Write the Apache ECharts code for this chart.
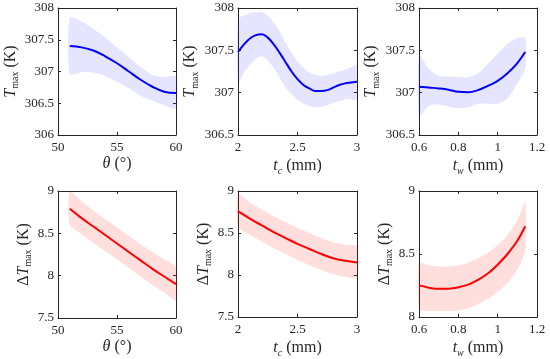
<!DOCTYPE html>
<html><head><meta charset="utf-8">
<script src="https://cdn.jsdelivr.net/npm/echarts@6/dist/echarts.min.js"></script>
<style>html,body{margin:0;padding:0;background:#fff}#c{width:550px;height:359px}</style>
</head><body><div id="c"></div>
<script>
// Panel 1: T_max vs theta
const p1X = [51, 52, 53, 54, 55, 56, 57, 58, 59, 60];
const p1Mean = [307.40, 307.38, 307.33, 307.24, 307.13, 307.00, 306.87, 306.76, 306.68, 306.66];
const p1Up = [307.85, 307.79, 307.67, 307.54, 307.38, 307.23, 307.07, 306.95, 306.91, 306.92];
const p1Lo = [306.96, 306.99, 306.98, 306.93, 306.84, 306.74, 306.62, 306.54, 306.47, 306.42];
// Panel 2: T_max vs t_c
const p2X = [2.00, 2.05, 2.10, 2.15, 2.20, 2.25, 2.30, 2.35, 2.40, 2.45, 2.50, 2.55, 2.60, 2.65, 2.70, 2.75, 2.80, 2.85, 2.90, 2.95, 3.00];
const p2Mean = [307.48, 307.57, 307.64, 307.68, 307.69, 307.65, 307.57, 307.47, 307.36, 307.25, 307.16, 307.09, 307.05, 307.02, 307.02, 307.03, 307.06, 307.09, 307.11, 307.12, 307.13];
const p2Up = [307.87, 307.91, 307.94, 307.95, 307.95, 307.91, 307.83, 307.72, 307.59, 307.47, 307.37, 307.29, 307.24, 307.21, 307.20, 307.21, 307.23, 307.25, 307.27, 307.30, 307.33];
const p2Lo = [307.10, 307.24, 307.33, 307.40, 307.43, 307.38, 307.29, 307.18, 307.06, 306.98, 306.92, 306.87, 306.84, 306.83, 306.83, 306.85, 306.88, 306.90, 306.92, 306.92, 306.92];
// Panel 3: T_max vs t_w
const p3X = [0.60, 0.65, 0.70, 0.75, 0.80, 0.85, 0.90, 0.95, 1.00, 1.05, 1.10, 1.14];
const p3Mean = [307.07, 307.06, 307.05, 307.035, 307.01, 307.005, 307.03, 307.08, 307.14, 307.23, 307.35, 307.48];
const p3Up = [307.44, 307.28, 307.20, 307.19, 307.185, 307.18, 307.23, 307.34, 307.46, 307.58, 307.645, 307.65];
const p3Lo = [306.72, 306.845, 306.86, 306.835, 306.815, 306.825, 306.87, 306.87, 306.87, 306.93, 307.11, 307.28];
// Panel 4: dT_max vs theta
const p4X = [51, 52, 53, 54, 55, 56, 57, 58, 59, 60];
const p4Mean = [8.79, 8.68, 8.58, 8.48, 8.38, 8.28, 8.18, 8.08, 7.99, 7.90];
const p4Up = [8.99, 8.88, 8.77, 8.67, 8.57, 8.47, 8.37, 8.28, 8.19, 8.10];
const p4Lo = [8.60, 8.49, 8.39, 8.29, 8.19, 8.09, 7.99, 7.89, 7.80, 7.71];
// Panel 5: dT_max vs t_c
const p5X = [2.0, 2.1, 2.2, 2.3, 2.4, 2.5, 2.6, 2.7, 2.8, 2.9, 3.0];
const p5Mean = [8.76, 8.67, 8.59, 8.51, 8.44, 8.37, 8.31, 8.25, 8.20, 8.17, 8.15];
const p5Up = [8.96, 8.86, 8.78, 8.70, 8.63, 8.56, 8.50, 8.44, 8.39, 8.36, 8.34];
const p5Lo = [8.57, 8.48, 8.40, 8.32, 8.25, 8.18, 8.12, 8.06, 8.01, 7.98, 7.97];
// Panel 6: dT_max vs t_w
const p6X = [0.60, 0.65, 0.70, 0.75, 0.80, 0.85, 0.90, 0.95, 1.00, 1.05, 1.10, 1.14];
const p6Mean = [8.251, 8.233, 8.224, 8.225, 8.236, 8.257, 8.295, 8.345, 8.415, 8.50, 8.605, 8.72];
const p6Up = [8.427, 8.41, 8.40, 8.40, 8.41, 8.43, 8.466, 8.51, 8.57, 8.65, 8.77, 8.91];
const p6Lo = [8.06, 8.05, 8.047, 8.047, 8.052, 8.07, 8.10, 8.145, 8.20, 8.27, 8.375, 8.53];

const font = '"Liberation Serif", "DejaVu Serif", serif';
const ink = '#262626';
const rich = {
  i: {fontFamily: font, fontStyle: 'italic', fontSize: 16, color: ink},
  r: {fontFamily: font, fontSize: 16, color: ink},
  s: {fontFamily: font, fontSize: 10, color: ink, padding: [10, 0, 0, 0]},
  si: {fontFamily: font, fontSize: 10, fontStyle: 'italic', color: ink, padding: [10, 0, 0, 0]}
};
const yNameT = '{i|T}{s|max}{r| (K)}';
const yNameD = '{r|Δ}{i|T}{s|max}{r| (K)}';
const xTheta = '{i|θ}{r| (°)}';
const xTc = '{i|t}{si|c}{r| (mm)}';
const xTw = '{i|t}{si|w}{r| (mm)}';

const panels = [
  {x: p1X, m: p1Mean, u: p1Up, l: p1Lo, grid: [58, 8, 118, 127], xr: [50, 60, 5], yr: [306, 308, 0.5], xn: xTheta, yn: yNameT, gap: 36, c: 'blue'},
  {x: p2X, m: p2Mean, u: p2Up, l: p2Lo, grid: [238, 8, 119, 127], xr: [2, 3, 0.5], yr: [306.5, 308, 0.5], xn: xTc, yn: yNameT, gap: 38, c: 'blue'},
  {x: p3X, m: p3Mean, u: p3Up, l: p3Lo, grid: [419, 8, 118, 127], xr: [0.6, 1.2, 0.2], yr: [306.5, 308, 0.5], xn: xTw, yn: yNameT, gap: 38, c: 'blue'},
  {x: p4X, m: p4Mean, u: p4Up, l: p4Lo, grid: [58, 191, 118, 127], xr: [50, 60, 5], yr: [7.5, 9, 0.5], xn: xTheta, yn: yNameD, gap: 22, c: 'red'},
  {x: p5X, m: p5Mean, u: p5Up, l: p5Lo, grid: [238, 191, 119, 127], xr: [2, 3, 0.5], yr: [7.5, 9, 0.5], xn: xTc, yn: yNameD, gap: 22, c: 'red'},
  {x: p6X, m: p6Mean, u: p6Up, l: p6Lo, grid: [419, 191, 118, 127], xr: [0.6, 1.2, 0.2], yr: [8, 9, 0.5], xn: xTw, yn: yNameD, gap: 19, c: 'red'}
];

const grid = [], xAxis = [], yAxis = [], series = [];
const lineC = {blue: '#0000ff', red: '#ff0000'};
const bandC = {blue: 'rgba(0,0,255,0.10)', red: 'rgba(255,0,0,0.13)'};

panels.forEach((p, k) => {
  grid.push({left: p.grid[0], top: p.grid[1], width: p.grid[2], height: p.grid[3]});
  const axLine = {show: true, lineStyle: {color: ink, width: 1}};
  const tick = {show: true, inside: true, length: 3, lineStyle: {color: ink}};
  const lbl = {fontFamily: font, fontSize: 13, color: ink};
  xAxis.push({type: 'value', gridIndex: k, min: p.xr[0], max: p.xr[1], interval: p.xr[2],
    axisLine: axLine, axisTick: tick, splitLine: {show: false},
    axisLabel: Object.assign({margin: 6}, lbl),
    name: p.xn, nameLocation: 'middle', nameGap: 21, nameTextStyle: {rich: rich}});
  xAxis.push({type: 'value', gridIndex: k, position: 'top', min: p.xr[0], max: p.xr[1], interval: p.xr[2],
    axisLine: axLine, axisTick: tick, splitLine: {show: false}, axisLabel: {show: false}});
  yAxis.push({type: 'value', gridIndex: k, min: p.yr[0], max: p.yr[1], interval: p.yr[2],
    axisLine: axLine, axisTick: tick, splitLine: {show: false},
    axisLabel: Object.assign({margin: 4}, lbl),
    name: p.yn, nameLocation: 'middle', nameGap: p.gap, nameRotate: 90, nameTextStyle: {rich: rich}});
  yAxis.push({type: 'value', gridIndex: k, position: 'right', min: p.yr[0], max: p.yr[1], interval: p.yr[2],
    axisLine: axLine, axisTick: tick, splitLine: {show: false}, axisLabel: {show: false}});
  const xi = 2 * k, yi = 2 * k;
  const bandData = p.x.map((v, i) => [v, p.l[i], p.u[i]]);
  series.push({type: 'custom', xAxisIndex: xi, yAxisIndex: yi, silent: true, z: 1,
    data: bandData,
    encode: {x: 0, y: [1, 2]},
    renderItem: function (params, api) {
      if (params.dataIndex !== 0) return null;
      const upPts = [], loPts = [];
      for (let i = 0; i < bandData.length; i++) {
        upPts.push(api.coord([bandData[i][0], bandData[i][2]]));
        loPts.push(api.coord([bandData[i][0], bandData[i][1]]));
      }
      return {
        type: 'group',
        children: [{
          type: 'polygon',
          shape: {points: upPts.concat(loPts.reverse()), smooth: 0.25},
          style: {fill: bandC[p.c], stroke: null}
        }]
      };
    }});
  series.push({type: 'line', xAxisIndex: xi, yAxisIndex: yi, smooth: 0.4, symbol: 'none',
    lineStyle: {color: lineC[p.c], width: 2}, z: 3,
    data: p.x.map((v, i) => [v, p.m[i]])});
});

const chart = echarts.init(document.getElementById('c'), null, {renderer: 'canvas'});
chart.setOption({animation: false, backgroundColor: '#fff', grid, xAxis, yAxis, series});
</script></body></html>
